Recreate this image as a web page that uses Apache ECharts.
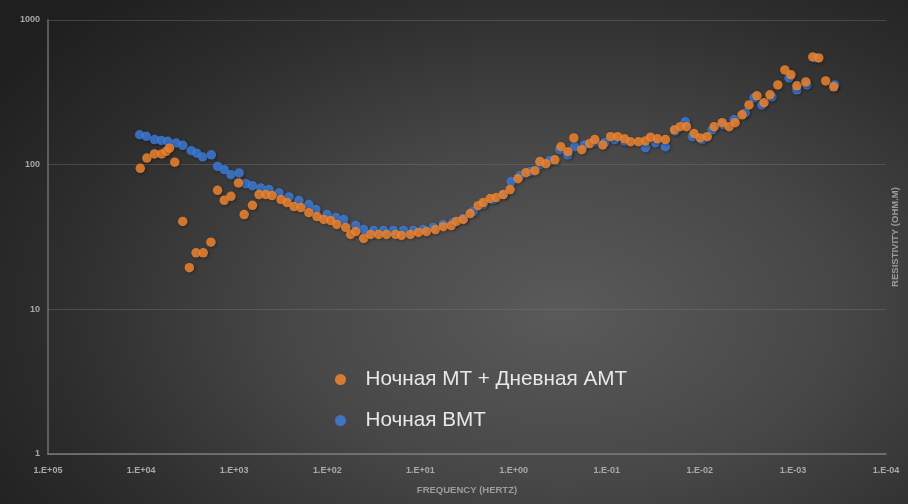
<!DOCTYPE html>
<html>
<head>
<meta charset="utf-8">
<script src="https://cdn.jsdelivr.net/npm/echarts@6/dist/echarts.min.js"></script>
<style>
  html, body { margin: 0; padding: 0; }
  #chart {
    width: 908px; height: 504px;
    background: radial-gradient(ellipse 75% 85% at 62% 62%, #5a5a5a 0%, #474747 40%, #2d2d2d 75%, #1f1f1f 100%);
  }
</style>
</head>
<body>
<div id="chart"></div>
<script>
// Night MT + day AMT sounding: frequency (Hz) and apparent resistivity (Ohm.m)
const orangeName = 'Ночная МТ + Дневная АМТ';
const orangeFreq = [10200, 8670, 7180, 6000, 5370, 4960, 4350, 3570, 3030, 2570, 2150, 1780, 1510, 1280, 1085, 900, 782, 637, 541, 458, 393, 314, 271, 228, 192, 158, 129, 109, 91.8, 79.1, 63.4, 56.1, 49.6, 40.7, 34.3, 28.1, 23.1, 18.5, 16.0, 12.8, 10.5, 8.63, 6.91, 5.68, 4.66, 4.12, 3.47, 2.92, 2.40, 2.12, 1.78, 1.54, 1.29, 1.09, 0.895, 0.735, 0.589, 0.521, 0.449, 0.360, 0.310, 0.261, 0.225, 0.185, 0.152, 0.134, 0.110, 0.0906, 0.0762, 0.0641, 0.0553, 0.0455, 0.0383, 0.0338, 0.0285, 0.0234, 0.0187, 0.0162, 0.0139, 0.0115, 0.00988, 0.00832, 0.00700, 0.00574, 0.00483, 0.00417, 0.00351, 0.00296, 0.00243, 0.00204, 0.00176, 0.00145, 0.00122, 0.00105, 0.000906, 0.000726, 0.000611, 0.000527, 0.000444, 0.000364];
const orangeRho = [94.3, 111, 118.6, 118.6, 123.6, 130, 104, 40.5, 19.4, 24.6, 24.6, 29.1, 66.5, 56.7, 60.4, 74.8, 45.2, 52.4, 62.1, 62.1, 61.1, 57.4, 54.7, 51.3, 50.5, 46.6, 43.8, 41.8, 41.1, 38.6, 36.8, 32.9, 34.5, 30.9, 32.9, 32.9, 32.9, 32.9, 32.4, 32.9, 34.0, 34.5, 35.6, 37.3, 37.9, 40.5, 41.8, 45.9, 52.1, 54.7, 58.3, 59.2, 62.1, 67.3, 80.0, 88.0, 90.9, 105, 101.6, 108, 133, 123, 153, 127, 140, 149, 137, 156, 156, 151, 144, 144, 146, 155, 151, 149, 174, 183, 183, 164, 153, 156, 183, 195, 183, 195, 221, 259, 299, 268, 304, 356, 452, 418, 351, 373, 556, 547, 379, 345];

// Night BMT sounding
const blueName = 'Ночная ВМТ';
const blueFreq = [10380, 8790, 7180, 6080, 5170, 4200, 3570, 2900, 2530, 2180, 1760, 1510, 1280, 1085, 885, 750, 637, 518, 423, 330, 258, 202, 158, 133, 101, 81.1, 66.7, 49.6, 40.7, 31.8, 24.9, 19.5, 15.2, 11.9, 9.29, 7.26, 5.68, 4.44, 3.47, 2.71, 2.12, 1.66, 1.29, 1.06, 0.851, 0.667, 0.521, 0.407, 0.318, 0.261, 0.220, 0.172, 0.134, 0.105, 0.0820, 0.0641, 0.0383, 0.0299, 0.0234, 0.0183, 0.0143, 0.0120, 0.00940, 0.00735, 0.00561, 0.00428, 0.00326, 0.00261, 0.00215, 0.00168, 0.00110, 0.000906, 0.000708, 0.000568, 0.000356];
const blueRho = [161, 157, 149, 147, 145, 141, 136, 125, 120, 113, 117, 97.3, 92.4, 85.3, 87.7, 73.9, 71.6, 69.1, 67.3, 63.8, 59.8, 56.5, 53.0, 48.9, 45.2, 43.1, 41.8, 37.9, 35.6, 35.1, 35.1, 35.1, 35.1, 35.1, 35.6, 36.8, 38.6, 39.8, 42.5, 47.4, 53.0, 57.4, 62.1, 76.4, 84.0, 89.5, 100, 107, 127, 117, 133, 137, 144, 142, 149, 146, 131, 142, 133, 171, 198, 156, 149, 174, 189, 204, 228, 290, 259, 294, 398, 329, 356, 547, 356];

const xTitle = 'FREQUENCY (HERTZ)';
const yTitle = 'RESISTIVITY (OHM.M)';

const pairs = (xs, ys) => xs.map((x, i) => [x, ys[i]]);

// 1.E+05 style tick labels
function sciLabel(v) {
  const e = Math.round(Math.log10(v));
  const s = e < 0 ? '-' : '+';
  const a = Math.abs(e);
  return '1.E' + s + (a < 10 ? '0' + a : a);
}
// plain integers on the resistivity axis (1, 10, 100, 1000)
const plainLabel = v => String(Math.round(v));

const labelFont = { color: '#a9a9a9', fontSize: 9, fontFamily: 'Liberation Sans', fontWeight: 'bold' };
const titleFont = { color: '#9c9c9c', fontSize: 9.5, fontFamily: 'Liberation Sans', fontWeight: 'bold' };
const markShadow = { shadowBlur: 3, shadowColor: 'rgba(0,0,0,0.45)', shadowOffsetX: 1, shadowOffsetY: 1 };

const chart = echarts.init(document.getElementById('chart'), null, { renderer: 'canvas' });
chart.setOption({
  backgroundColor: 'transparent',
  animation: false,
  grid: { left: 48, right: 22, top: 20, bottom: 50, containLabel: false, outerBoundsMode: 'none' },
  legend: {
    orient: 'vertical',
    left: 330,
    top: 363,
    data: [orangeName, blueName],
    icon: 'circle',
    itemWidth: 40,
    itemHeight: 11,
    itemGap: 18,
    textStyle: { color: '#e8e8e8', fontSize: 20.7, fontFamily: 'Liberation Sans', lineHeight: 23 }
  },
  xAxis: {
    type: 'log',
    logBase: 10,
    min: 1e-4,
    max: 1e5,
    inverse: true,
    splitNumber: 10,
    name: xTitle,
    nameLocation: 'middle',
    nameGap: 31,
    nameTextStyle: titleFont,
    axisLine: { show: true, lineStyle: { color: '#7b7b7b', width: 1.5 } },
    axisTick: { show: false },
    axisLabel: { formatter: sciLabel, margin: 12, ...labelFont },
    splitLine: { show: false },
    minorTick: { show: false }
  },
  yAxis: [{
    type: 'log',
    logBase: 10,
    min: 1,
    max: 1000,
    splitNumber: 3,
    axisLine: { show: true, lineStyle: { color: '#6f6f6f', width: 1.5 } },
    axisTick: { show: false },
    axisLabel: { formatter: plainLabel, margin: 8, ...labelFont },
    splitLine: { show: true, lineStyle: { color: 'rgba(120,120,120,0.4)', width: 1 } }
  }, {
    type: 'log',
    logBase: 10,
    min: 1,
    max: 1000,
    position: 'right',
    name: yTitle,
    nameLocation: 'middle',
    nameRotate: 90,
    nameGap: 4,
    nameTextStyle: titleFont,
    axisLine: { show: false },
    axisTick: { show: false },
    axisLabel: { show: false },
    splitLine: { show: false }
  }],
  series: [{
    name: blueName,
    type: 'scatter',
    data: pairs(blueFreq, blueRho),
    symbolSize: 9.5,
    itemStyle: { color: '#3f80e0', ...markShadow },
    z: 2
  }, {
    name: orangeName,
    type: 'scatter',
    data: pairs(orangeFreq, orangeRho),
    symbolSize: 9.5,
    itemStyle: { color: '#fa8a30', ...markShadow },
    z: 3
  }]
});
</script>
</body>
</html>
